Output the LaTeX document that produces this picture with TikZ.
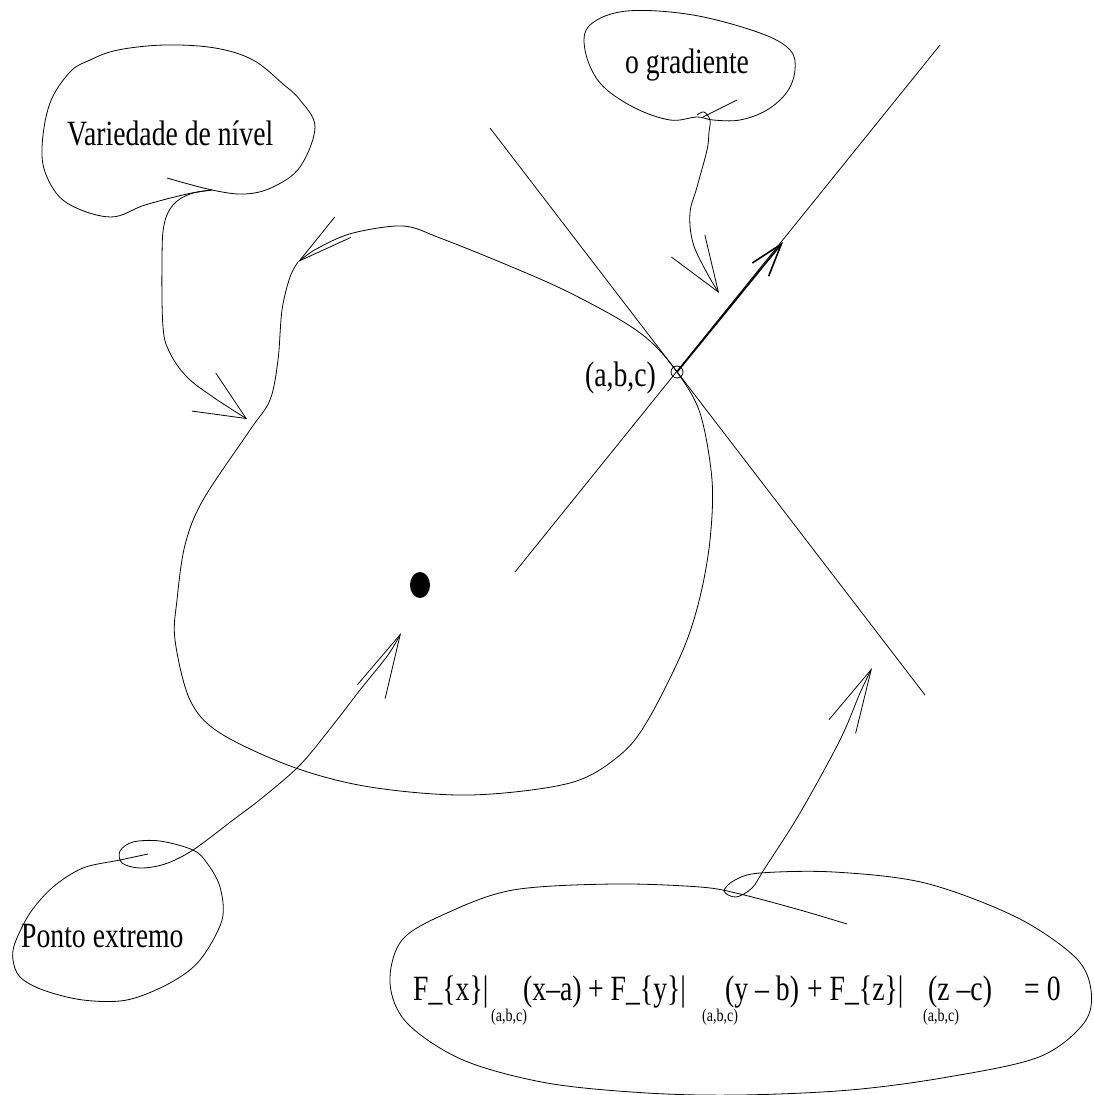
\documentclass[tikz,border=0pt]{standalone}
\usepackage{fontspec}
\setmainfont{Liberation Serif}[FakeStretch=0.78]
\usepackage{tikz}
\usetikzlibrary{arrows.meta}

\begin{document}
\begin{tikzpicture}[
  x=1pt, y=-1pt,
  stroke/.style={line width=0.8pt, line join=round},
  txt/.style={inner sep=0pt, anchor=base west, font=\fontsize{35.5}{40}\selectfont},
  subtxt/.style={inner sep=0pt, anchor=base west, font=\fontsize{18}{20}\selectfont}
]
\useasboundingbox (0,0) rectangle (1093,1095);

% key points
\coordinate (P) at (677,372);
\coordinate (G) at (783,242);
\coordinate (tanA) at (490,128);
\coordinate (tanB) at (925,695);
\coordinate (norA) at (515,572);
\coordinate (norB) at (940,45);

% labels
\node[txt] (variedade) at (67,145) {Variedade de nível};
\node[txt] (gradiente) at (625,73) {o gradiente};
\node[txt] (ponto) at (21,947) {Ponto extremo};
\node[txt] (abc) at (585,386) {(a,b,c)};
\node[txt] (eqFx) at (413,1000) {F\_\{x\}|};
\node[subtxt] (subx) at (491,1021) {(a,b,c)};
\node[txt] (eqxa) at (523,1000) {(x–a)};
\node[txt] (eqFy) at (588,1000) {+ F\_\{y\}|};
\node[subtxt] (suby) at (702,1021) {(a,b,c)};
\node[txt] (eqyb) at (725,1000) {(y – b)};
\node[txt] (eqFz) at (807,1000) {+ F\_\{z\}|};
\node[subtxt] (subz) at (923,1021) {(a,b,c)};
\node[txt] (eqzc) at (928,1000) {(z –c)};
\node[txt] (eqzero) at (1024,1000) {= 0};

% tangent plane and normal line
\draw[stroke] (tanA) -- (tanB);
\draw[stroke] (norA) -- (norB);
\draw[line width=1.6pt, -{Straight Barb[length=33pt, width=21pt]}] (P) -- (G);
\draw[stroke] (P) circle[radius=6];
\fill (420,585) ellipse[x radius=10, y radius=13];

% level curve
\draw[stroke, {Straight Barb[length=55pt, width=26pt]}-] plot[smooth, tension=0.55] coordinates {
  (298,262) (320,247) (353,233) (403,226) (440,238) (500,262) (560,288)
  (617,318) (650,341) (677,372) (700,413) (712,480) (710,540) (700,597)
  (683,650) (648,720) (620,755) (570,783) (470,795) (370,787) (293,767)
  (220,733) (190,700) (175,640) (177,600) (185,545) (203,500) (250,430)
  (270,400) (278,360) (282,310) (290,277) (298,262)};

% bubble: Variedade de nivel
\draw[stroke] plot[smooth, tension=0.6] coordinates {
  (167,178) (212,190) (245,194) (273,187) (300,167) (315,127) (300,100)
  (283,84) (253,60) (215,48) (165,45) (118,50) (90,60) (70,72) (50,103)
  (42,147) (47,177) (67,203) (110,217) (145,205) (187,194) (212,190)};
\draw[stroke, -{Straight Barb[length=50pt, width=45pt]}] plot[smooth, tension=0.6] coordinates {
  (212,190) (190,194) (173,205) (164,225) (162,260) (163,327) (170,353)
  (187,377) (213,397) (247,419)};

% bubble: o gradiente
\draw[stroke] (737,100) -- (703,117);
\draw[stroke] plot[smooth cycle, tension=0.6] coordinates {
  (697,117) (670,120) (633,107) (600,83) (585,50) (590,25) (627,11)
  (693,15) (760,33) (790,50) (795,70) (787,92) (767,110) (740,120) (713,120)};
\draw[stroke, -{Straight Barb[length=55pt, width=40pt]}] plot[smooth, tension=0.6] coordinates {
  (697,115) (704,112) (710,120) (709,132) (707,150) (697,187) (690,213)
  (693,243) (707,273) (719,293)};

% bubble: Ponto extremo
\draw[stroke, -{Straight Barb[length=64pt, width=31pt]}] plot[smooth, tension=0.55] coordinates {
  (148,854) (120,860) (83,868) (53,887) (30,913) (15,943) (13,960) (20,977)
  (43,990) (83,1000) (127,1000) (170,983) (200,960) (222,920) (220,887)
  (207,863) (193,850) (160,841) (133,842) (120,851) (122,863) (140,868)
  (165,864) (193,850) (233,820) (262,798) (300,765) (333,725) (360,690)
  (388,655) (401,633)};

% bubble: equation
\draw[stroke, -{Straight Barb[length=64pt, width=30pt]}] plot[smooth, tension=0.55] coordinates {
  (847,924) (800,910) (740,894) (700,887) (613,884) (513,890) (447,913)
  (402,940) (390,983) (407,1023) (463,1060) (547,1083) (647,1093)
  (740,1095) (850,1090) (948,1077) (1039,1057) (1084,1023) (1091,990)
  (1075,957) (1016,917) (925,883) (834,872) (760,873) (735,880) (724,891)
  (736,897) (752,888) (765,868) (800,813) (840,740) (860,693) (872,668)};
\end{tikzpicture}
\end{document}
